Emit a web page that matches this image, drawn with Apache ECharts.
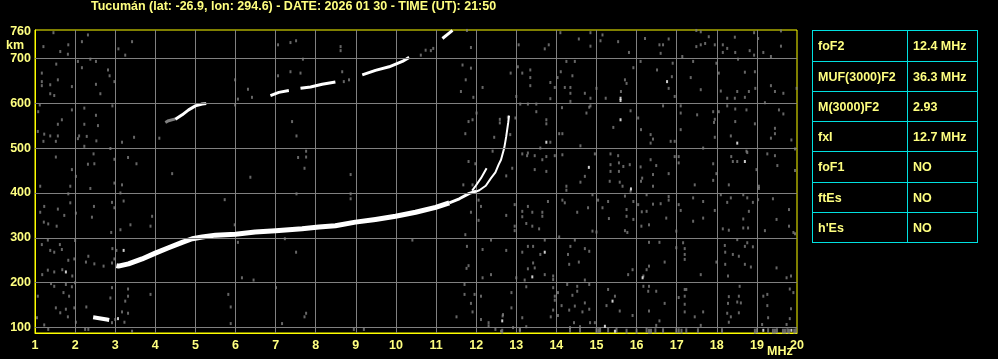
<!DOCTYPE html>
<html><head><meta charset="utf-8">
<script src="https://cdn.jsdelivr.net/npm/echarts@6/dist/echarts.min.js"></script>
<style>html,body{margin:0;padding:0;background:#000;}#c{width:998px;height:359px;}</style>
</head><body><div id="c"></div>
<script>
const TITLE = 'Tucumán (lat: -26.9, lon: 294.6) - DATE: 2026 01 30 - TIME (UT): 21:50';
const yLabelValues = [100, 200, 300, 400, 500, 600, 700, 760];
const yGridValues = [100, 200, 300, 400, 500, 600, 700];
const tableLabels = ['foF2', 'MUF(3000)F2', 'M(3000)F2', 'fxI', 'foF1', 'ftEs', "h'Es"];
const tableValues = ['12.4 MHz', '36.3 MHz', '2.93', '12.7 MHz', 'NO', 'NO', 'NO'];

// ionogram traces [MHz, km]
const traceMainA = [[3.03,238],[3.08,237],[3.33,242],[3.67,253],[4.0,266],[4.33,278],[4.67,290],[4.92,298],[5.17,302],[5.5,306],[6.0,308],[6.49,313],[7.0,316],[7.66,320],[8.08,324],[8.49,327],[8.99,335],[9.49,341],[9.99,348],[10.49,357],[10.99,368],[11.33,378]];
const traceMainB = [[11.33,378],[11.58,387],[11.83,399],[12.0,404]];
const traceOEnd = [[11.9,405],[11.99,416],[12.12,433],[12.26,455]];
const traceX = [[12.0,403],[12.08,406],[12.24,416],[12.37,433],[12.48,446],[12.56,463],[12.62,474],[12.70,500],[12.75,526],[12.80,557],[12.82,572]];
const traceE = [[2.45,123],[2.6,121],[2.79,118],[2.85,117]];
const hop2A = [[4.5,564],[4.67,574],[4.83,585],[5.0,594],[5.17,598],[5.27,599]];
const hop2Agray = [[4.25,557],[4.33,561],[4.5,565]];
const hop2B = [[6.87,617],[7.08,624],[7.33,628]];
const hop2C = [[7.62,633],[7.87,636],[8.16,642],[8.49,647]];
const hop2D = [[9.16,663],[9.49,673],[9.83,681],[10.16,693],[10.33,702]];
const hop2E = [[11.16,744],[11.41,762]];

// scattered noise echoes [MHz, km]
const noiseGray = [
[1.46,757],[2.32,752],[1.83,730],[2.17,737],[3.42,737],[3.08,721],[3.25,707],[1.21,726],[1.63,715],[1.82,709],[2.07,693],[2.38,698],[2.52,693],[1.53,687],[2.17,679],[2.82,674],[1.17,667],[2.86,661],[2.98,648],[1.17,648],[1.17,639],[1.38,641],[1.57,652],[1.38,621],[1.92,637],[2.52,642],[2.63,621],[1.48,617],[1.08,581],[1.12,596],[1.92,585],[2.23,589],[2.52,573],[2.93,594],[1.67,563],[2.23,553],[1.57,553],[2.57,550],[1.23,531],[1.38,527],[1.57,527],[2.10,527],[1.07,537],[2.07,521],[2.29,526],[2.53,516],[3.17,513],[3.47,524],[4.10,522],[1.21,515],[1.52,515],[2.23,504],[2.88,499],[1.52,480],[2.46,487],[2.98,475],[3.32,479],[3.53,465],[2.32,464],[2.48,465],[1.92,452],[4.42,443],[2.02,437],[1.13,415],[1.88,415],[2.38,410],[2.98,422],[3.17,418],[3.13,400],[1.83,398],[2.92,379],[3.21,382],[1.23,370],[1.57,364],[1.88,378],[2.47,370],[2.98,367],[1.13,357],[1.73,350],[2.02,355],[2.42,346],[3.92,348],[1.22,335],[1.33,331],[1.54,326],[3.38,329],[3.88,326],[2.90,312],[3.13,318],[5.73,385],[5.98,329],[1.32,295],[1.17,285],[1.62,285],[2.00,294],[1.38,272],[1.48,268],[1.67,274],[1.83,250],[1.98,253],[2.27,246],[2.33,259],[2.48,242],[2.71,237],[2.93,276],[3.03,272],[2.92,244],[2.98,253],[1.18,218],[1.32,228],[1.48,224],[1.93,215],[1.68,229],[1.40,198],[1.48,192],[1.77,196],[1.92,191],[2.00,200],[1.07,170],[1.71,178],[1.85,170],[2.92,189],[3.32,186],[3.32,170],[3.25,159],[3.88,174],[5.82,174],[1.52,144],[1.63,133],[1.77,141],[1.98,144],[2.28,146],[1.82,124],[1.05,122],[3.17,135],[3.32,132],[3.00,118],[3.23,112],[2.92,111],[2.02,112],[1.23,106],[1.33,96],[2.25,96],[2.33,96],[3.42,92],[5.88,109],[5.88,146],[2.88,166],
[7.06,730],[7.37,735],[7.51,739],[8.62,726],[8.62,717],[7.68,698],[7.06,661],[7.37,670],[7.62,667],[8.66,670],[5.99,652],[6.31,631],[6.41,613],[6.06,609],[5.99,596],[8.83,652],[8.70,648],[10.62,707],[10.74,718],[10.87,717],[10.93,722],[11.77,762],[11.87,724],[11.66,685],[11.87,678],[11.74,652],[12.16,635],[11.62,626],[11.93,613],[12.01,578],[11.81,559],[11.91,563],[12.59,556],[12.45,524],[11.73,532],[12.41,493],[11.81,470],[11.98,465],[11.68,418],[11.91,418],[12.06,384],[12.12,370],[11.87,357],[12.06,339],[7.41,559],[7.52,527],[7.76,493],[7.56,479],[7.76,480],[7.72,455],[6.37,435],[8.87,441],[7.52,398],[8.87,398],[8.87,387],[6.06,290],[7.23,298],[7.51,268],[10.41,295],[11.73,307],[12.37,295],[11.77,281],[12.16,274],[11.81,238],[11.76,232],[12.37,218],[12.16,211],[6.16,211],[6.45,206],[7.01,189],[11.71,196],[11.71,174],[11.96,174],[12.12,170],[11.87,154],[11.91,135],[12.12,118],[11.51,124],[7.76,132],[7.72,124],[7.16,109],[8.95,96],[9.20,96],[12.31,111],[12.66,126],[12.31,104],[12.48,96],[12.62,92],
[14.10,757],[14.85,757],[15.15,752],[14.56,743],[15.54,737],[15.10,739],[16.21,744],[13.06,730],[13.81,730],[13.71,721],[14.85,727],[15.81,713],[13.04,681],[12.86,667],[13.15,667],[13.35,674],[13.35,657],[13.35,639],[13.85,646],[13.96,635],[14.11,670],[14.03,657],[14.25,693],[14.46,693],[14.40,661],[14.21,635],[14.35,635],[14.35,622],[13.85,610],[14.35,604],[14.71,622],[14.85,611],[15.0,633],[15.23,611],[15.61,626],[15.71,652],[15.75,644],[15.92,679],[16.10,693],[13.0,615],[13.1,598],[13.29,598],[13.5,598],[13.5,581],[13.75,563],[13.75,554],[13.85,513],[12.59,564],[12.79,569],[12.85,530],[12.98,567],[14.14,590],[14.75,578],[14.82,591],[14.85,594],[14.15,532],[14.07,532],[14.6,505],[14.96,487],[15.42,546],[15.85,583],[16.11,541],[16.04,567],[13.6,500],[13.15,487],[13.29,489],[13.27,483],[13.46,483],[13.65,474],[13.75,481],[13.96,483],[14.15,485],[13.75,448],[12.75,438],[12.9,455],[13.46,452],[14.71,437],[14.6,424],[14.25,415],[14.25,406],[15.35,487],[15.54,483],[15.35,463],[15.56,467],[15.67,459],[15.83,463],[15.35,448],[15.56,448],[15.33,426],[15.58,424],[15.65,415],[16.10,458],[16.14,433],[16.11,426],[15.85,404],[15.71,393],[15.92,381],[16.25,396],[16.04,374],[16.25,359],[16.13,358],[15.75,363],[15.75,348],[15.92,341],[15.29,381],[15.15,367],[15.31,343],[15.04,384],[14.90,396],[14.79,367],[14.52,357],[14.15,384],[14.21,378],[13.79,381],[13.65,357],[13.65,348],[13.4,357],[13.29,370],[13.15,359],[13.15,347],[13.25,332],[13.4,326],[13.57,320],[12.96,326],[12.96,316],[12.75,350],[12.96,374],[14.90,315],[15.0,313],[15.71,316],[15.77,312],[16.12,326],[14.07,302],[13.71,295],[14.46,295],[14.35,281],[13.42,281],[13.29,281],[13.15,268],[12.75,272],[13.60,263],[14.29,263],[14.71,276],[14.82,270],[14.56,246],[14.32,241],[13.42,244],[13.46,233],[13.29,231],[13.71,218],[13.92,215],[13.92,207],[13.21,206],[13.25,191],[13.0,211],[14.04,178],[13.96,170],[13.96,161],[13.92,189],[14.27,196],[14.52,192],[14.52,181],[14.71,206],[14.82,196],[14.40,172],[14.13,149],[14.46,148],[14.71,155],[14.82,141],[14.65,135],[14.32,139],[13.92,139],[14.04,127],[13.86,124],[15.29,185],[15.46,170],[15.25,149],[15.58,137],[15.90,127],[15.79,218],[15.90,229],[16.25,229],[16.17,192],[16.29,181],[16.17,215],[12.88,178],[12.88,144],[12.67,129],[13.15,122],[13.25,102],[12.92,100],[13.09,95],[14.34,100],[14.44,111],[14.59,102],[14.84,111],[14.96,111],
[17.49,762],[17.60,759],[17.80,748],[18.45,747],[18.93,757],[19.03,744],[19.60,761],[16.80,743],[16.57,730],[16.66,730],[16.60,711],[17.49,726],[17.60,730],[17.71,733],[17.95,730],[18.15,730],[18.26,722],[18.15,713],[18.46,713],[18.82,717],[18.93,707],[19.16,713],[19.60,727],[19.35,704],[17.14,704],[18.53,698],[17.41,693],[17.99,689],[16.90,689],[16.51,674],[16.88,659],[16.80,633],[16.95,615],[17.35,657],[17.60,630],[18.05,667],[18.10,627],[18.51,626],[18.80,626],[18.70,669],[18.95,670],[18.70,613],[18.45,611],[18.26,611],[18.96,633],[19.35,639],[19.45,626],[19.66,622],[19.99,633],[19.20,601],[16.66,594],[17.10,594],[17.10,578],[17.51,574],[17.91,581],[17.95,564],[17.93,557],[18.05,581],[18.26,594],[18.46,587],[18.74,585],[18.46,559],[18.95,554],[19.55,585],[19.66,576],[19.45,544],[19.45,532],[19.35,522],[19.86,518],[17.10,541],[17.95,524],[18.35,527],[16.35,530],[16.41,520],[16.35,511],[16.85,515],[16.95,515],[17.66,500],[18.74,493],[16.35,474],[16.49,461],[16.41,441],[16.41,415],[16.80,443],[16.95,481],[17.05,481],[17.05,467],[17.91,465],[17.99,443],[17.91,428],[18.36,481],[18.40,470],[18.51,470],[18.76,490],[18.99,452],[19.26,487],[19.45,483],[19.51,461],[19.95,450],[19.95,498],[19.05,415],[19.05,410],[17.45,418],[18.30,418],[16.80,392],[16.80,384],[16.41,375],[16.60,376],[17.05,374],[17.10,361],[17.41,389],[17.41,337],[17.66,381],[17.66,344],[17.95,361],[18.10,396],[18.26,379],[18.35,389],[18.66,396],[18.76,389],[18.80,359],[18.66,342],[18.78,322],[18.66,322],[18.90,379],[19.03,385],[19.40,387],[19.80,363],[19.49,341],[19.91,312],[19.95,309],[19.80,326],[19.20,316],[18.15,320],[18.30,317],[16.74,344],[16.31,329],[16.99,315],[16.99,278],[16.31,290],[16.57,290],[17.16,289],[17.20,276],[17.20,263],[17.20,252],[16.70,246],[16.31,237],[17.60,218],[17.99,246],[18.20,283],[18.21,268],[18.21,241],[18.40,263],[18.55,259],[18.51,296],[18.70,241],[18.70,281],[18.76,289],[18.85,235],[18.90,280],[18.28,215],[19.49,233],[19.74,211],[19.85,215],[16.31,192],[16.49,181],[16.70,154],[16.31,137],[16.57,115],[16.49,105],[17.20,185],[17.24,185],[17.20,170],[17.20,152],[17.20,135],[17.05,167],[17.45,124],[17.66,135],[17.60,105],[18.30,169],[18.55,170],[18.28,154],[18.51,157],[18.60,155],[18.55,133],[18.26,132],[18.35,124],[18.30,112],[18.57,192],[19.16,170],[19.26,174],[19.91,178],[19.82,186],[19.85,142],[19.26,149],[19.82,120],[19.74,107],[19.13,107],[19.28,122]
];
const noiseWhite = [[1.77,224],[3.21,272],[3.07,120],[15.60,606],[15.60,611],[13.75,513],[15.60,563],[14.81,457],[15.86,409],[13.71,268],[13.4,213],[16.15,211],[15.40,159],[12.65,115],[15.21,103],[15.46,92],[16.76,648],[18.51,511],[18.70,470],[19.16,94],[19.86,94]];
const noiseBottom = [[12.65,92],[13.09,94],[14.34,94],[14.59,94],[15.0,93],[15.05,93],[15.09,94],[15.29,94],[15.5,94],[15.75,92],[16.0,92],[16.25,94],[16.31,92],[16.36,92],[16.47,93],[16.66,93],[16.99,93],[17.05,93],[17.12,92],[17.24,93],[17.53,93],[18.13,93],[18.95,92],[19.0,93],[19.28,93],[19.4,92],[19.45,92],[19.5,93],[19.65,92],[19.7,92],[19.76,93],[19.8,92],[19.93,92],[19.97,93]];

const TXT = '#ffff80', AX = '#ffff00', GRID = '#808080', CYAN = '#00e0e0';
const FONT = '"Liberation Sans", Arial, sans-serif';

function lineSeries(data, width, color) {
  return { type: 'line', data: data, showSymbol: false, symbol: 'none', silent: true,
    lineStyle: { width: width, color: color || '#ffffff', cap: 'butt', join: 'round' }, z: 4, animation: false };
}

// table graphics
const rowY = [30, 61, 91, 121, 151, 182, 212, 242];
const tX0 = 812, tX1 = 907, tX2 = 977;
const graphics = [];
[tX0, tX1, tX2].forEach(function (x) {
  graphics.push({ type: 'line', silent: true, shape: { x1: x + 0.5, y1: rowY[0], x2: x + 0.5, y2: rowY[7] + 1 }, style: { stroke: CYAN, lineWidth: 1 } });
});
rowY.forEach(function (y) {
  graphics.push({ type: 'line', silent: true, shape: { x1: tX0, y1: y + 0.5, x2: tX2 + 1, y2: y + 0.5 }, style: { stroke: CYAN, lineWidth: 1 } });
});
tableLabels.forEach(function (lab, i) {
  const cy = (rowY[i] + rowY[i + 1]) / 2 + 1.5;
  graphics.push({ type: 'text', silent: true, x: tX0 + 6, y: cy, style: { text: lab, fill: TXT, font: 'bold 12.5px ' + FONT, textVerticalAlign: 'middle' } });
  graphics.push({ type: 'text', silent: true, x: tX1 + 6, y: cy, style: { text: tableValues[i], fill: TXT, font: 'bold 12.5px ' + FONT, textVerticalAlign: 'middle' } });
});
graphics.push({ type: 'text', silent: true, x: 6, y: 46, style: { text: 'km', fill: TXT, font: 'bold 12.5px ' + FONT, textVerticalAlign: 'middle' } });
graphics.push({ type: 'text', silent: true, x: 767, y: 351.5, style: { text: 'MHz', fill: TXT, font: 'bold 12.5px ' + FONT, textVerticalAlign: 'middle' } });

const chart = echarts.init(document.getElementById('c'), null, { renderer: 'canvas' });
chart.setOption({
  backgroundColor: '#000000',
  animation: false,
  title: { text: TITLE, left: 91, top: 0, padding: 0,
    textStyle: { color: TXT, fontSize: 12.5, fontWeight: 'bold', fontFamily: FONT, lineHeight: 13 } },
  grid: { left: 35, top: 30, right: 201, bottom: 26, show: true, borderColor: AX, borderWidth: 1, backgroundColor: 'transparent' },
  xAxis: { type: 'value', min: 1, max: 20, interval: 1,
    axisLine: { show: true, lineStyle: { color: AX, width: 1 } },
    axisTick: { show: false },
    axisLabel: { color: TXT, fontSize: 12.5, fontWeight: 'bold', fontFamily: FONT, margin: 6 },
    splitLine: { show: true, showMinLine: false, showMaxLine: false, lineStyle: { color: GRID, width: 1 } } },
  yAxis: { type: 'value', min: 88, max: 763,
    axisLine: { show: true, lineStyle: { color: AX, width: 1 } },
    axisTick: { show: false },
    axisLabel: { color: TXT, fontSize: 12.5, fontWeight: 'bold', fontFamily: FONT, margin: 4, customValues: yLabelValues },
    splitLine: { show: false } },
  graphic: graphics,
  series: [
    { type: 'scatter', data: [], silent: true, z: 1,
      markLine: { silent: true, symbol: ['none', 'none'], label: { show: false }, animation: false,
        lineStyle: { color: GRID, width: 1, type: 'solid' },
        data: yGridValues.map(function (v) { return { yAxis: v }; }) } },
    { type: 'scatter', data: noiseGray, symbol: 'rect', symbolSize: [2, 3], itemStyle: { color: GRID }, silent: true, z: 2 },
    { type: 'scatter', data: noiseBottom, symbol: 'rect', symbolSize: [2, 5], itemStyle: { color: GRID }, silent: true, z: 2 },
    lineSeries(hop2Agray, 3, '#808080'),
    lineSeries(traceMainA, 5),
    lineSeries(traceMainB, 3),
    lineSeries(traceOEnd, 2),
    lineSeries(traceX, 2),
    lineSeries(traceE, 4),
    lineSeries(hop2A, 3),
    lineSeries(hop2B, 3),
    lineSeries(hop2C, 3),
    lineSeries(hop2D, 3),
    lineSeries(hop2E, 3),
    { type: 'scatter', data: noiseWhite, symbol: 'rect', symbolSize: [2, 3], itemStyle: { color: '#ffffff' }, silent: true, z: 5 }
  ]
});
</script></body></html>
